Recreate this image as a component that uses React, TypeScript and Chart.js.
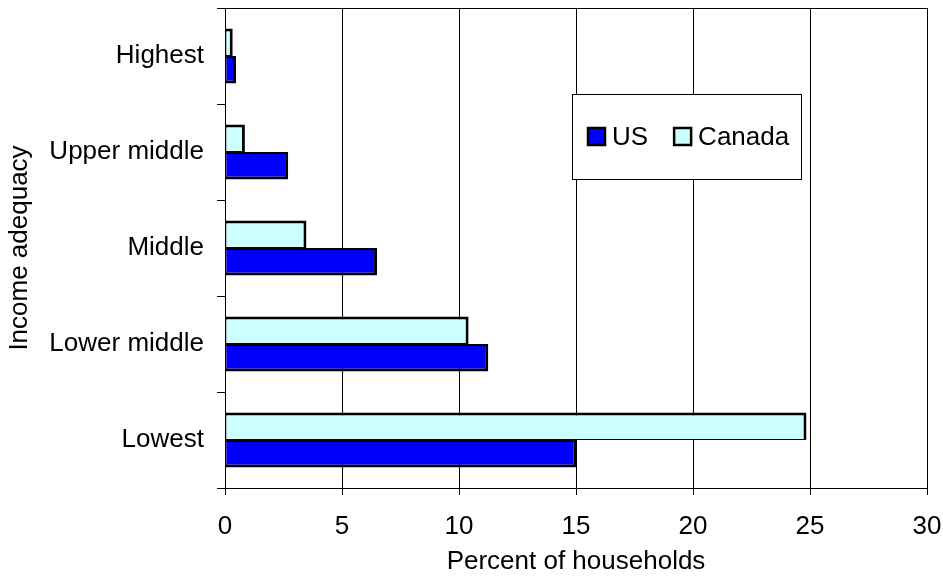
import { useEffect, useRef } from "react";
import { Chart, registerables } from "chart.js";

Chart.register(...registerables);

// Income adequacy groups, listed top to bottom
const categories = ["Highest", "Upper middle", "Middle", "Lower middle", "Lowest"];
// Percent of households in each group
const usValues = [0.47, 2.7, 6.5, 11.25, 15.03];
const canadaValues = [0.33, 0.85, 3.48, 10.41, 24.85];
// Horizontal axis range and step
const xMin = 0;
const xMax = 30;
const xStep = 5;

const FONT = "'Liberation Sans', Arial, Helvetica, sans-serif";
const FONT_SIZE = 26;

// Boxed legend drawn inside the plot area
const insetLegend = {
  id: "insetLegend",
  afterDraw(chart: any) {
    const { ctx, chartArea } = chart;
    const x = chartArea.left + 347;
    const y = chartArea.top + 86;
    const w = 229;
    const h = 85;
    ctx.save();
    ctx.fillStyle = "#ffffff";
    ctx.fillRect(x, y, w, h);
    ctx.strokeStyle = "#000000";
    ctx.lineWidth = 1;
    ctx.strokeRect(x + 0.5, y + 0.5, w, h);

    const items = [...chart.data.datasets].reverse();
    const cy = y + h / 2;
    let cx = x + 16;
    ctx.font = `${FONT_SIZE}px ${FONT}`;
    ctx.textBaseline = "middle";
    ctx.textAlign = "left";
    items.forEach((ds: any) => {
      const s = 17;
      ctx.fillStyle = ds.backgroundColor;
      ctx.fillRect(cx, cy - s / 2, s, s);
      ctx.lineWidth = 2.5;
      ctx.strokeStyle = "#000000";
      ctx.strokeRect(cx, cy - s / 2, s, s);
      ctx.fillStyle = "#000000";
      ctx.fillText(ds.label, cx + s + 7, cy + 1);
      cx += s + 7 + ctx.measureText(ds.label).width + 26;
    });
    ctx.restore();
  },
};

// Top edge of the plot frame
const plotFrame = {
  id: "plotFrame",
  afterDatasetsDraw(chart: any) {
    const { ctx, chartArea } = chart;
    ctx.save();
    ctx.strokeStyle = "#000000";
    ctx.lineWidth = 1;
    ctx.beginPath();
    ctx.moveTo(chartArea.left, Math.round(chartArea.top) + 0.5);
    ctx.lineTo(chartArea.right, Math.round(chartArea.top) + 0.5);
    ctx.stroke();
    ctx.restore();
  },
};

export default function App() {
  const canvasRef = useRef<HTMLCanvasElement | null>(null);

  useEffect(() => {
    const canvas = canvasRef.current;
    if (!canvas) return;
    const chart = new Chart(canvas, {
      type: "bar",
      data: {
        labels: categories,
        datasets: [
          {
            label: "Canada",
            data: canadaValues,
            backgroundColor: "#CCFFFF",
            borderColor: "#000000",
            borderWidth: { top: 3, right: 3, bottom: 1, left: 1 },
            borderSkipped: false,
          },
          {
            label: "US",
            data: usValues,
            backgroundColor: "#0000FF",
            borderColor: "#000000",
            borderWidth: { top: 2, right: 3, bottom: 3, left: 1 },
            borderSkipped: false,
          },
        ],
      },
      options: {
        indexAxis: "y",
        responsive: false,
        animation: false,
        devicePixelRatio: 1,
        datasets: {
          bar: {
            categoryPercentage: 0.573,
            barPercentage: 1,
          },
        },
        layout: {
          padding: { top: 8, right: 16, bottom: 0, left: 0 },
        },
        plugins: {
          legend: { display: false },
          tooltip: { enabled: false },
        },
        scales: {
          x: {
            type: "linear",
            min: xMin,
            max: xMax,
            ticks: {
              stepSize: xStep,
              color: "#000000",
              padding: 16,
              font: { family: FONT, size: FONT_SIZE },
            },
            grid: {
              color: "#000000",
              lineWidth: 1,
              tickLength: 7,
              tickColor: "#000000",
            },
            border: { color: "#000000", width: 1 },
            title: {
              display: true,
              text: "Percent of households",
              color: "#000000",
              font: { family: FONT, size: FONT_SIZE },
              padding: { top: 0, bottom: 7 },
            },
            afterFit(scale: any) {
              scale.height = 96;
              scale.paddingLeft = 0;
              scale.paddingRight = 0;
            },
          },
          y: {
            type: "category",
            ticks: {
              color: "#000000",
              padding: 13,
              font: { family: FONT, size: FONT_SIZE },
            },
            grid: {
              offset: true,
              drawOnChartArea: false,
              drawTicks: true,
              tickLength: 8,
              tickColor: "#000000",
              color: "#000000",
            },
            border: { color: "#000000", width: 1 },
            title: {
              display: true,
              text: "Income adequacy",
              color: "#000000",
              font: { family: FONT, size: FONT_SIZE },
              padding: { top: 4, bottom: 0 },
            },
            afterFit(scale: any) {
              scale.width = 225;
              scale.paddingTop = 0;
              scale.paddingBottom = 0;
            },
          },
        },
      },
      plugins: [plotFrame, insetLegend],
    });
    return () => chart.destroy();
  }, []);

  return (
    <div style={{ position: "fixed", left: 0, top: 0, width: 943, height: 584, background: "#ffffff" }}>
      <canvas ref={canvasRef} width={943} height={584} style={{ display: "block" }} />
    </div>
  );
}
